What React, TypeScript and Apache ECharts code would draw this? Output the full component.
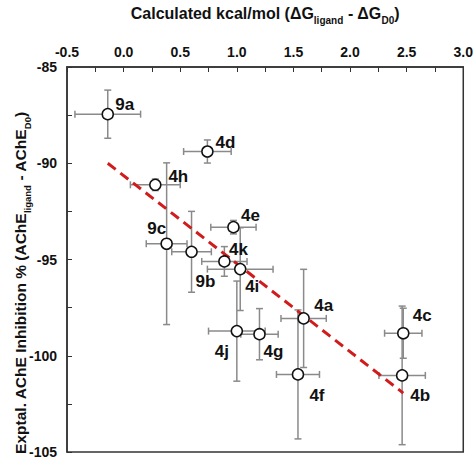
import React, { useEffect, useRef } from "react";
import * as echarts from "echarts";

const names = ["9a", "4h", "4d", "9c", "9b", "4e", "4k", "4i", "4a", "4j", "4g", "4f", "4c", "4b"];
const xs = [-0.14, 0.28, 0.74, 0.38, 0.6, 0.97, 0.89, 1.03, 1.59, 1.0, 1.2, 1.54, 2.47, 2.46];
const ys = [-87.45, -91.12, -89.39, -94.18, -94.6, -93.32, -95.1, -95.5, -98.06, -98.72, -98.88, -100.97, -98.83, -101.02];
const xErr = [0.29, 0.22, 0.21, 0.18, 0.175, 0.2, 0.2, 0.29, 0.2, 0.25, 0.165, 0.19, 0.165, 0.205];
const yErr = [1.25, 0.3, 0.6, 4.2, 2.1, 0.35, 0.77, 2.15, 2.55, 2.6, 1.33, 3.35, 1.3, 3.6];
const trendX = [-0.14, 2.47];
const trendY = [-90.0, -101.94];
const xTicks = { min: -0.5, max: 3.0, step: 0.5 };
const yTicks = { min: -105, max: -85, step: 5 };

// label offsets (px) relative to marker centre
const labelOffsets = [
  [17, -10], [23, -8], [18, -9], [-10, -15], [14, 30], [17, -12], [14, -12],
  [12, 17], [20, -13], [-15, 20], [14, 17], [19, 21], [19, -18], [18, 20],
];

const FONT = "Arial, 'Liberation Sans', sans-serif";

export default function App() {
  const ref = useRef<HTMLDivElement>(null);
  useEffect(() => {
    const chart = echarts.init(ref.current!, null, { renderer: "svg" });
    const axisCommon = {
      type: "value",
      axisLine: { show: true, onZero: false, lineStyle: { color: "#333", width: 1.5 } },
      axisTick: { show: true, inside: true, length: 5, lineStyle: { color: "#333", width: 1 } },
      minorTick: { show: true, splitNumber: 2, length: 5, lineStyle: { color: "#333", width: 1 } },
      splitLine: { show: false },
    };
    chart.setOption({
      animation: false,
      grid: { left: 67, right: 8, top: 65, bottom: 4, show: true, borderColor: "#333", borderWidth: 1.5, backgroundColor: "transparent" },
      xAxis: {
        ...axisCommon,
        position: "top",
        min: xTicks.min,
        max: xTicks.max,
        interval: xTicks.step,
        axisLabel: { formatter: (v: number) => v.toFixed(1), fontFamily: FONT, fontWeight: "bold", fontSize: 14, color: "#111", margin: 8 },
        name: "{b|Calculated kcal/mol (ΔG}{s|ligand}{b| - ΔG}{s|D0}{b|)}",
        nameLocation: "middle",
        nameGap: 42,
        nameTextStyle: {
          rich: {
            b: { fontFamily: FONT, fontWeight: "bold", fontSize: 16, color: "#111", lineHeight: 20, verticalAlign: "top" },
            s: { fontFamily: FONT, fontWeight: "bold", fontSize: 10, color: "#111", lineHeight: 10, padding: [10, 0, 0, 0], verticalAlign: "top" },
          },
        },
      },
      yAxis: {
        ...axisCommon,
        min: yTicks.min,
        max: yTicks.max,
        interval: yTicks.step,
        axisLabel: { fontFamily: FONT, fontWeight: "bold", fontSize: 14, color: "#111", margin: 10 },
      },
      graphic: [
        {
          type: "text",
          x: 22,
          y: 283,
          rotation: Math.PI / 2,
          style: {
            text: "{b|Exptal. AChE Inhibition % (AChE}{s|ligand}{b| - AChE}{s|D0}{b|)}",
            align: "center",
            verticalAlign: "middle",
            rich: {
              b: { fontFamily: FONT, fontWeight: "bold", fontSize: 15.5, fill: "#111", lineHeight: 20, verticalAlign: "top" },
              s: { fontFamily: FONT, fontWeight: "bold", fontSize: 9.5, fill: "#111", lineHeight: 10, padding: [10, 0, 0, 0], verticalAlign: "top" },
            },
          },
        },
      ],
      series: [
        {
          type: "custom",
          z: 1,
          encode: { x: 0, y: 1 },
          data: names.map((_, i) => [xs[i], ys[i], xErr[i], yErr[i]]),
          renderItem: (params: any, api: any) => {
            const x = api.value(0), y = api.value(1), ex = api.value(2), ey = api.value(3);
            const l = api.coord([x - ex, y]);
            const r = api.coord([x + ex, y]);
            const t = api.coord([x, y + ey]);
            const b = api.coord([x, y - ey]);
            const cap = 3.5;
            const style = { stroke: "#8a8a8a", lineWidth: 1.5 };
            const mk = (x1: number, y1: number, x2: number, y2: number) => ({ type: "line", shape: { x1, y1, x2, y2 }, style });
            return {
              type: "group",
              children: [
                mk(l[0], l[1], r[0], r[1]),
                mk(l[0], l[1] - cap, l[0], l[1] + cap),
                mk(r[0], r[1] - cap, r[0], r[1] + cap),
                mk(t[0], t[1], b[0], b[1]),
                mk(t[0] - cap, t[1], t[0] + cap, t[1]),
                mk(b[0] - cap, b[1], b[0] + cap, b[1]),
              ],
            };
          },
        },
        {
          type: "line",
          z: 2,
          data: trendX.map((x, i) => [x, trendY[i]]),
          symbol: "none",
          lineStyle: { color: "#d01c1c", width: 3, type: [10, 6] },
        },
        {
          type: "scatter",
          z: 3,
          symbol: "circle",
          symbolSize: 11,
          itemStyle: { color: "#fff", borderColor: "#111", borderWidth: 1.5, opacity: 1 },
          data: names.map((n, i) => ({
            value: [xs[i], ys[i]],
            name: n,
            label: {
              show: true,
              position: "inside",
              offset: labelOffsets[i],
              formatter: n,
              fontFamily: FONT,
              fontWeight: "bold",
              fontSize: 17,
              color: "#111",
              textBorderWidth: 0,
            },
          })),
        },
      ],
    });
    return () => chart.dispose();
  }, []);
  return <div ref={ref} style={{ position: "absolute", left: 0, top: 0, width: 476, height: 459 }} />;
}
